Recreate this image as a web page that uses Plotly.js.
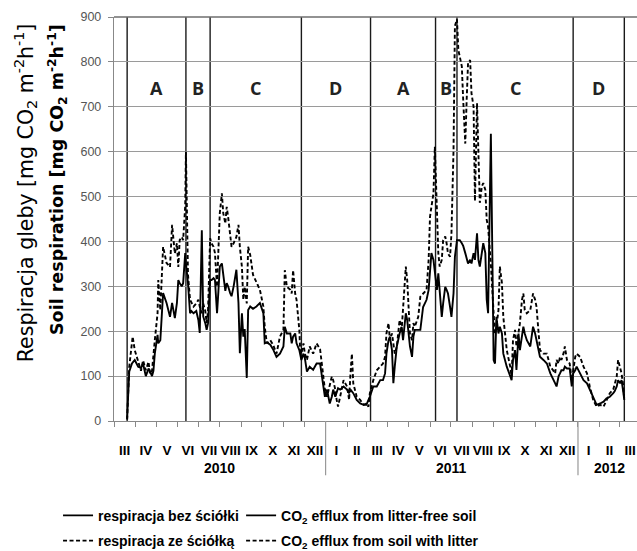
<!DOCTYPE html>
<html><head><meta charset="utf-8">
<script src="https://cdn.plot.ly/plotly-3.0.1.min.js"></script>
<style>html,body{margin:0;padding:0;background:#fff}#chart{width:637px;height:551px}</style>
</head><body><div id="chart"></div>
<script>
// ---- data ----
// day of study, counted from 2010-03-01
const measurementDay = [19,22,26,27,30,35,39,42,46,50,52,55,57,59,63,64,67,71,76,81,84,88,91,93,95,98,100,103,104,107,110,112,115,119,122,124,127,129,132,134,136,139,141,144,146,149,151,153,156,158,161,163,165,168,170,173,177,180,182,185,187,189,192,194,197,201,206,211,216,218,221,226,230,235,240,245,247,250,255,257,259,262,264,268,269,271,274,276,279,283,288,293,298,303,305,308,312,315,317,320,322,324,327,332,337,340,342,344,346,351,356,361,365,368,370,375,380,385,389,392,394,397,399,402,404,406,409,413,416,418,422,424,428,431,433,435,440,443,447,452,455,457,459,462,464,467,469,471,474,476,479,481,483,486,488,491,493,496,498,500,503,505,508,510,512,515,517,520,522,525,527,529,532,534,537,539,541,545,549,551,553,556,558,561,563,568,573,575,577,580,582,585,587,590,592,594,597,602,604,606,609,611,616,621,626,631,635,638,640,643,645,647,650,652,655,659,662,664,667,669,674,679,684,688,693,698,703,708,712,717,722,724,727,729,732,734,736,738];
// CO2 efflux from litter-free soil [mg CO2 m-2 h-1]
const effluxLitterFree = [5,110,128,130,136,121,118,128,100,117,110,100,112,150,192,173,180,285,263,232,263,229,263,314,307,300,307,374,352,307,240,245,240,245,225,196,425,233,218,203,218,314,314,318,314,240,290,344,351,325,290,307,300,285,278,300,337,263,151,240,188,205,96,247,255,250,255,263,240,173,175,170,160,143,150,166,210,195,195,173,188,195,173,158,150,136,150,140,110,121,114,128,128,70,54,70,39,54,70,54,62,73,70,77,70,62,70,66,62,47,39,36,36,47,54,77,77,91,91,106,150,180,188,158,84,121,166,195,210,180,240,225,166,143,188,203,203,203,254,270,292,329,374,359,336,292,329,284,232,262,299,292,284,254,232,284,366,403,403,403,396,390,374,359,351,359,351,374,359,418,359,344,374,396,374,270,240,640,136,128,232,195,210,195,150,121,100,91,136,158,114,195,158,195,210,195,180,166,188,210,195,180,143,136,128,106,91,84,77,100,106,113,113,121,117,117,77,106,113,121,106,91,84,70,54,36,39,43,50,54,62,66,77,91,84,91,70,47];
// CO2 efflux from soil with litter [mg CO2 m-2 h-1]
const effluxWithLitter = [3,120,175,188,158,130,112,135,113,132,105,112,140,180,240,314,247,388,352,343,437,373,396,343,403,410,403,480,600,326,270,265,255,262,270,255,240,262,245,218,245,407,396,388,374,299,374,463,507,463,440,477,455,410,388,396,410,437,388,343,270,299,262,388,370,326,307,292,255,210,173,180,170,150,188,203,336,299,292,284,336,284,270,203,166,150,173,150,136,166,150,173,160,91,70,54,84,99,91,70,47,32,54,91,77,47,106,150,84,54,47,36,39,32,62,91,113,121,128,143,195,218,180,195,166,150,166,225,203,247,344,314,195,180,218,210,232,277,284,292,359,455,477,507,611,455,374,344,359,403,411,396,373,366,418,603,880,895,826,812,790,715,618,715,797,804,730,700,490,708,581,486,523,530,515,448,433,350,240,195,210,247,344,307,232,158,121,99,180,203,166,203,218,270,284,247,240,247,270,284,270,255,158,150,150,121,113,106,136,128,143,136,150,166,136,128,91,113,143,150,143,121,106,77,47,32,36,32,47,62,70,84,99,136,121,106,84,47];
// season boundaries and labels
const periodBounds = ['2010-03-20','2010-06-13','2010-07-18','2010-11-27','2011-03-07','2011-06-09','2011-07-10','2011-12-25','2012-03-08'];
const periodLetters = ['A','B','C','D','A','B','C','D'];
// axis labels
const monthLabels = ['I','II','III','IV','V','VI','VII','VIII','IX','X','XI','XII'];
const yearLabels = ['2010','2011','2012'];
const seriesNamesPL = ['respiracja bez ściółki','respiracja ze ściółką'];
const seriesNamesEN = ['CO<sub>2</sub> efflux from litter-free soil','CO<sub>2</sub> efflux from soil with litter'];
const yTitlePL = 'Respiracja gleby [mg CO<sub>2</sub> m<sup>-2</sup>h<sup>-1</sup>]';
const yTitleEN = 'Soil respiration [mg CO<sub>2</sub> m<sup>-2</sup>h<sup>-1</sup>]';
const axisStart = '2010-03-01';
const axisEnd = '2012-03-26 08:00';

// ---- helpers ----
const DAY = 86400000;
const t0 = Date.UTC(2010, 2, 1);
const iso = t => new Date(t).toISOString().slice(0, 19).replace('T', ' ');
const dates = measurementDay.map(d => iso(t0 + d * DAY));

// month ticks (Mar 2010 .. Mar 2012)
const tickvals = [], ticktext = [], monthStarts = [];
const yearSpan = {};
for (let y = 2010, m = 2; y < 2012 || (y === 2012 && m <= 2); ) {
  const s = Date.UTC(y, m, 1), e = Date.UTC(y, m + 1, 1);
  monthStarts.push(iso(s));
  tickvals.push(iso((s + e) / 2));
  ticktext.push(monthLabels[m]);
  if (!yearSpan[y]) yearSpan[y] = [s, e]; else yearSpan[y][1] = e;
  m++; if (m > 11) { m = 0; y++; }
}
monthStarts.push(iso(Date.UTC(2012, 3, 1)));

const shapes = [];
const annotations = [];
// season boundaries
periodBounds.forEach(d => shapes.push({type:'line', xref:'x', yref:'paper', x0:d, x1:d, y0:0, y1:1,
  line:{color:'#1a1a1a', width:1.4}, layer:'below'}));
// top frame line
shapes.push({type:'line', xref:'paper', yref:'paper', x0:0, x1:1, y0:1, y1:1, line:{color:'#6e6e6e', width:1.6}});
// season letters
periodLetters.forEach((L, i) => {
  const a = Date.parse(periodBounds[i]), b = Date.parse(periodBounds[i + 1]);
  annotations.push({x: iso((a + b) / 2), y: 742, xref:'x', yref:'y', text: L, showarrow:false,
    font:{family:'Open Sans, Liberation Sans, sans-serif', size:18, weight:'bold', color:'#222'}});
});
// years: labels and dividers
yearLabels.forEach((Y, i) => {
  const sp = yearSpan[+Y];
  annotations.push({x: iso((sp[0] + sp[1]) / 2), y: -0.116, xref:'x', yref:'paper', text: Y, showarrow:false,
    yanchor:'middle', font:{family:'Liberation Sans, Arial, sans-serif', size:14, weight:'bold', color:'#000'}});
  if (i > 0) shapes.push({type:'line', xref:'x', yref:'paper', x0: iso(sp[0]), x1: iso(sp[0]), y0:0, y1:-0.134,
    line:{color:'#999', width:1.2}});
});
// y titles
annotations.push({xref:'paper', yref:'paper', x:-0.170, y:0.564, text:yTitlePL, textangle:-90, showarrow:false,
  xanchor:'center', yanchor:'middle', font:{family:'DejaVu Sans, Liberation Sans, sans-serif', size:20.5, color:'#000'}});
annotations.push({xref:'paper', yref:'paper', x:-0.109, y:0.599, text:yTitleEN, textangle:-90, showarrow:false,
  xanchor:'center', yanchor:'middle', font:{family:'DejaVu Sans, Liberation Sans, sans-serif', size:17.5, weight:'bold', color:'#000'}});

const lineSolid = {color:'#000', width:1.9};
const lineDash = {color:'#000', width:1.9, dash:'4px,2.5px'};
const traces = [
  {type:'scatter', mode:'lines', x:dates, y:effluxLitterFree, name:seriesNamesPL[0], line:lineSolid, legend:'legend', legendgroup:'a'},
  {type:'scatter', mode:'lines', x:dates, y:effluxWithLitter, name:seriesNamesPL[1], line:lineDash, legend:'legend', legendgroup:'b'},
  {type:'scatter', mode:'lines', x:[null], y:[null], name:seriesNamesEN[0], line:lineSolid, legend:'legend2', legendgroup:'c', showlegend:true},
  {type:'scatter', mode:'lines', x:[null], y:[null], name:seriesNamesEN[1], line:lineDash, legend:'legend2', legendgroup:'d', showlegend:true}
];

const legendFont = {family:'Liberation Sans, Arial, sans-serif', size:14, weight:'bold', color:'#000'};
const layout = {
  width:637, height:551,
  margin:{l:114, r:0, t:17, b:130, autoexpand:false},
  paper_bgcolor:'#fff', plot_bgcolor:'#fff',
  showlegend:true,
  xaxis:{type:'date', range:[axisStart, axisEnd], tickmode:'array', tickvals:tickvals, ticktext:ticktext,
    ticks:'', showgrid:false, zeroline:false, showline:true, linecolor:'#888', linewidth:1.2,
    ticklabelstandoff:17,
    tickfont:{family:'Liberation Sans, Arial, sans-serif', size:13.5, weight:'bold', color:'#000'},
    minor:{tickmode:'array', tickvals:monthStarts, ticks:'outside', ticklen:5, tickcolor:'#888', tickwidth:1, showgrid:false}},
  yaxis:{range:[0, 900], tick0:0, dtick:100, showgrid:true, gridcolor:'#9a9a9a', gridwidth:1.2,
    zeroline:false, showline:true, linecolor:'#888', linewidth:1.2, ticks:'outside', ticklen:5, tickcolor:'#888',
    ticklabelstandoff:4,
    tickfont:{family:'Liberation Sans, Arial, sans-serif', size:12.5, color:'#555'}},
  legend:{x:-0.107, y:-0.195, xanchor:'left', yanchor:'top', orientation:'v', bgcolor:'rgba(0,0,0,0)', font:legendFont, traceorder:'grouped', tracegroupgap:4},
  legend2:{x:0.243, y:-0.195, xanchor:'left', yanchor:'top', orientation:'v', bgcolor:'rgba(0,0,0,0)', font:legendFont, traceorder:'grouped', tracegroupgap:4},
  shapes:shapes,
  annotations:annotations
};
Plotly.newPlot('chart', traces, layout, {displayModeBar:false, staticPlot:true});
</script>
</body></html>
